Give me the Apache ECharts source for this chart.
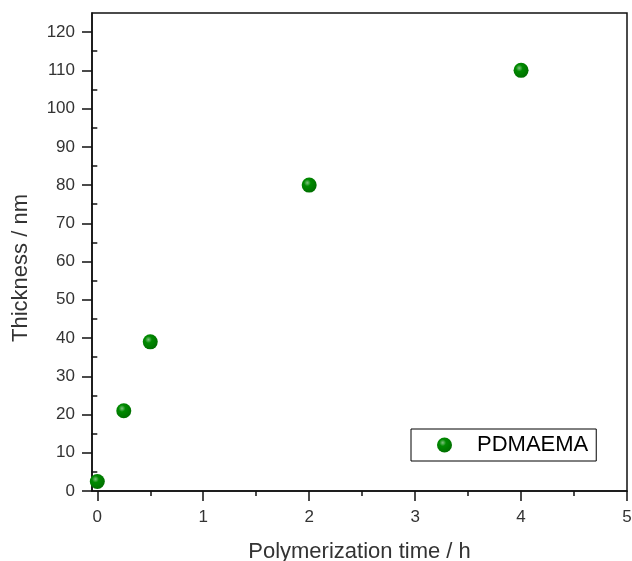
<!DOCTYPE html>
<html>
<head>
<meta charset="utf-8">
<script src="https://cdn.jsdelivr.net/npm/echarts@6/dist/echarts.min.js"></script>
<style>
html,body{margin:0;padding:0;background:#fff;}
#chart{width:632px;height:561px;}
</style>
</head>
<body>
<div id="chart"></div>
<script>
// Data
var seriesName = 'PDMAEMA';
var timeH = [0, 0.25, 0.5, 2, 4];
var thicknessNm = [2.5, 21, 39, 80, 110];

// Tick positions / labels
var xMajorTicks = [0, 1, 2, 3, 4, 5];
var xMinorTicks = [0.5, 1.5, 2.5, 3.5, 4.5];
var yMajorTicks = [0, 10, 20, 30, 40, 50, 60, 70, 80, 90, 100, 110, 120];
var yMinorTicks = [5, 15, 25, 35, 45, 55, 65, 75, 85, 95, 105, 115];

var points = timeH.map(function (t, i) { return [t, thicknessNm[i]]; });

var font = '"Liberation Sans", Arial, sans-serif';
var labelColor = '#333';
var lineColor = '#111';

var markerColor = {
  type: 'radial', x: 0.38, y: 0.35, r: 0.65,
  colorStops: [
    { offset: 0, color: '#7fc27f' },
    { offset: 0.35, color: '#008a00' },
    { offset: 1, color: '#007000' }
  ]
};

var chart = echarts.init(document.getElementById('chart'), null, { renderer: 'canvas' });
chart.setOption({
  animation: false,
  backgroundColor: '#fff',
  grid: {
    left: 92, right: 5, top: 13, bottom: 70,
    outerBoundsMode: 'none', containLabel: false,
    show: true, borderColor: lineColor, borderWidth: 1.5, backgroundColor: 'transparent'
  },
  legend: {
    data: [seriesName],
    left: 411, top: 429,
    orient: 'horizontal',
    padding: [5, 8, 5, 26],
    borderColor: '#000', borderWidth: 1,
    icon: 'circle', itemWidth: 15, itemHeight: 15,
    textStyle: { fontFamily: font, fontSize: 22, color: '#000', padding: [0, 0, 0, 20], lineHeight: 22 }
  },
  xAxis: [{
    type: 'value', min: -0.05, max: 5,
    name: 'Polymerization time / h', nameLocation: 'middle', nameGap: 50,
    nameTextStyle: { fontFamily: font, fontSize: 22, color: labelColor },
    axisLine: { show: true, onZero: false, lineStyle: { color: lineColor, width: 1.5 } },
    axisTick: { show: true, inside: false, length: 10, customValues: xMajorTicks, lineStyle: { color: lineColor, width: 1.5 } },
    axisLabel: { customValues: xMajorTicks, margin: 18, fontFamily: font, fontSize: 17, color: labelColor },
    splitLine: { show: false }
  }, {
    type: 'value', min: -0.05, max: 5, position: 'bottom',
    axisLine: { show: false },
    axisTick: { show: true, inside: false, length: 5, customValues: xMinorTicks, lineStyle: { color: lineColor, width: 1.5 } },
    axisLabel: { show: false },
    splitLine: { show: false }
  }],
  yAxis: [{
    type: 'value', min: 0, max: 125,
    name: 'Thickness / nm', nameLocation: 'middle', nameGap: 60,
    nameTextStyle: { fontFamily: font, fontSize: 22, color: labelColor, padding: [0, 32, 0, 0] },
    axisLine: { show: true, onZero: false, lineStyle: { color: lineColor, width: 1.5 } },
    axisTick: { show: true, inside: false, length: 10, customValues: yMajorTicks, lineStyle: { color: lineColor, width: 1.5 } },
    axisLabel: { customValues: yMajorTicks, margin: 17, fontFamily: font, fontSize: 17, color: labelColor },
    splitLine: { show: false }
  }, {
    type: 'value', min: 0, max: 125, position: 'left',
    axisLine: { show: false },
    axisTick: { show: true, inside: false, length: 6, customValues: yMinorTicks, lineStyle: { color: lineColor, width: 1.5 } },
    axisLabel: { show: false },
    splitLine: { show: false }
  }],
  series: [{
    name: seriesName,
    type: 'scatter',
    xAxisIndex: 0, yAxisIndex: 0,
    symbol: 'circle', symbolSize: 15,
    itemStyle: { color: markerColor, opacity: 1 },
    data: points
  }]
});
</script>
</body>
</html>
